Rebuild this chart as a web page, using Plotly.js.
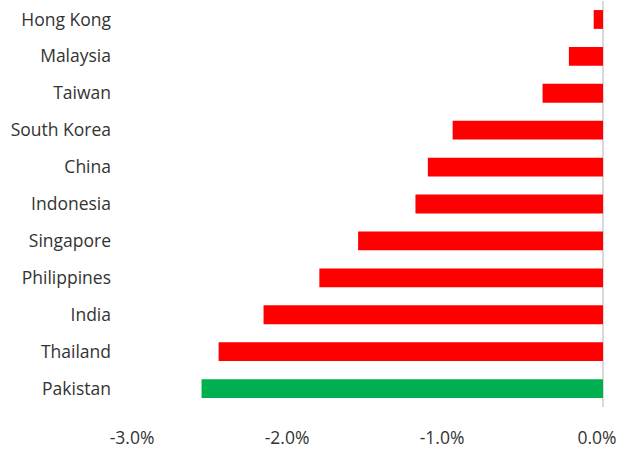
<!DOCTYPE html>
<html>
<head>
<meta charset="utf-8">
<script src="https://cdn.plot.ly/plotly-3.0.1.min.js"></script>
<style>html,body{margin:0;padding:0;background:#fff;}#chart{width:627px;height:454px;}</style>
</head>
<body>
<div id="chart"></div>
<script>
const countries = ["Pakistan","Thailand","India","Philippines","Singapore","Indonesia","China","South Korea","Taiwan","Malaysia","Hong Kong"];
const changes = [-2.59,-2.48,-2.19,-1.83,-1.58,-1.21,-1.13,-0.97,-0.39,-0.22,-0.06];
const barColors = ["#00B050","#FF0000","#FF0000","#FF0000","#FF0000","#FF0000","#FF0000","#FF0000","#FF0000","#FF0000","#FF0000"];
const xTickVals = [-3,-2,-1,0];
const xTickText = ["-3.0%","-2.0%","-1.0%","0.0%"];

Plotly.newPlot("chart",[{
  type:"bar", orientation:"h",
  y: countries, x: changes,
  marker:{color: barColors},
  hoverinfo:"none"
}],{
  width:627, height:454,
  margin:{l:138, r:24, t:1, b:47},
  paper_bgcolor:"#fff", plot_bgcolor:"#fff",
  bargap:0.49,
  showlegend:false,
  font:{family:"'Open Sans', sans-serif", size:17.5, color:"#333333"},
  xaxis:{
    range:[-3,0], tickvals:xTickVals, ticktext:xTickText,
    showgrid:false, zeroline:true, zerolinecolor:"#d9d9d9", zerolinewidth:1.5,
    showline:false, ticks:"", ticklabelstandoff:18, ticklabelshift:-6, fixedrange:true
  },
  yaxis:{
    type:"category", categoryorder:"array", categoryarray:countries,
    showgrid:false, zeroline:false, showline:false, ticks:"",
    ticklabelstandoff:26, fixedrange:true
  }
},{displayModeBar:false, staticPlot:true});
</script>
</body>
</html>
